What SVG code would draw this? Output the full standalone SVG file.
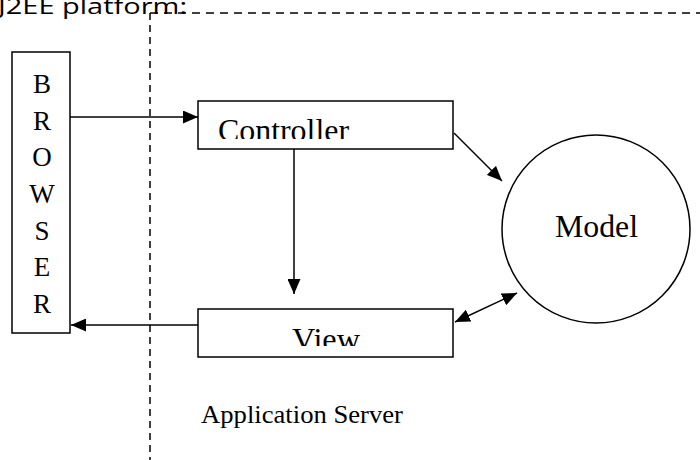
<svg xmlns="http://www.w3.org/2000/svg" width="700" height="460" viewBox="0 0 700 460">
<style>
.box{fill:#fff;stroke:#000;stroke-width:1.5}
.serif{font-family:"Liberation Serif","Times New Roman",serif;fill:#000}
.line{stroke:#000;stroke-width:1.5;fill:none}
.dash{stroke:#000;stroke-width:1.5;fill:none}
</style>
<defs>
<marker id="ah" viewBox="0 0 15 13" refX="15" refY="6.5" markerWidth="15" markerHeight="13" markerUnits="userSpaceOnUse" orient="auto-start-reverse">
<path d="M0,0 L15,6.5 L0,13 z" fill="#000"/>
</marker>
<clipPath id="clipC"><rect x="198" y="100" width="256" height="39"/></clipPath>
<clipPath id="clipV"><rect x="198" y="308" width="256" height="38"/></clipPath>
</defs>
<text x="-2" y="14" font-family="'Open Sans','Noto Sans',sans-serif" font-size="21" textLength="189" lengthAdjust="spacingAndGlyphs" fill="#000">J2EE platform:</text>
<g id="boundary">
<line class="dash" x1="150" y1="13" x2="700" y2="13" stroke-dasharray="8 6"/>
<line class="dash" x1="150" y1="13" x2="150" y2="460" stroke-dasharray="7 5"/>
</g>
<g id="browser">
<rect class="box" x="12" y="52" width="58" height="281"/>
<g class="serif" font-size="27" text-anchor="middle">
<text x="42" y="93">B</text>
<text x="42" y="130">R</text>
<text x="42" y="166">O</text>
<text x="42" y="203">W</text>
<text x="42" y="240">S</text>
<text x="42" y="276">E</text>
<text x="42" y="313">R</text>
</g>
</g>
<g id="controller">
<rect class="box" x="198" y="101" width="255" height="48"/>
<text class="serif" x="218" y="141" font-size="32" textLength="131" lengthAdjust="spacingAndGlyphs" clip-path="url(#clipC)">Controller</text>
</g>
<g id="view">
<rect class="box" x="198" y="309" width="255" height="48"/>
<text class="serif" x="292" y="350" font-size="31" textLength="68" lengthAdjust="spacingAndGlyphs" clip-path="url(#clipV)">View</text>
</g>
<g id="model">
<circle class="box" cx="596" cy="229" r="94"/>
<text class="serif" x="555" y="237" font-size="31" textLength="83" lengthAdjust="spacingAndGlyphs">Model</text>
</g>
<g id="connectors">
<line class="line" x1="70" y1="117" x2="198" y2="117" marker-end="url(#ah)"/>
<line class="line" x1="294" y1="149" x2="294" y2="294" marker-end="url(#ah)"/>
<line class="line" x1="198" y1="325" x2="71" y2="325" marker-end="url(#ah)"/>
<line class="line" x1="454" y1="133" x2="502" y2="181" marker-end="url(#ah)"/>
<line class="line" x1="455" y1="322" x2="517" y2="293" marker-start="url(#ah)" marker-end="url(#ah)"/>
</g>
<text class="serif" x="201" y="423" font-size="26" textLength="202" lengthAdjust="spacingAndGlyphs">Application Server</text>
</svg>
